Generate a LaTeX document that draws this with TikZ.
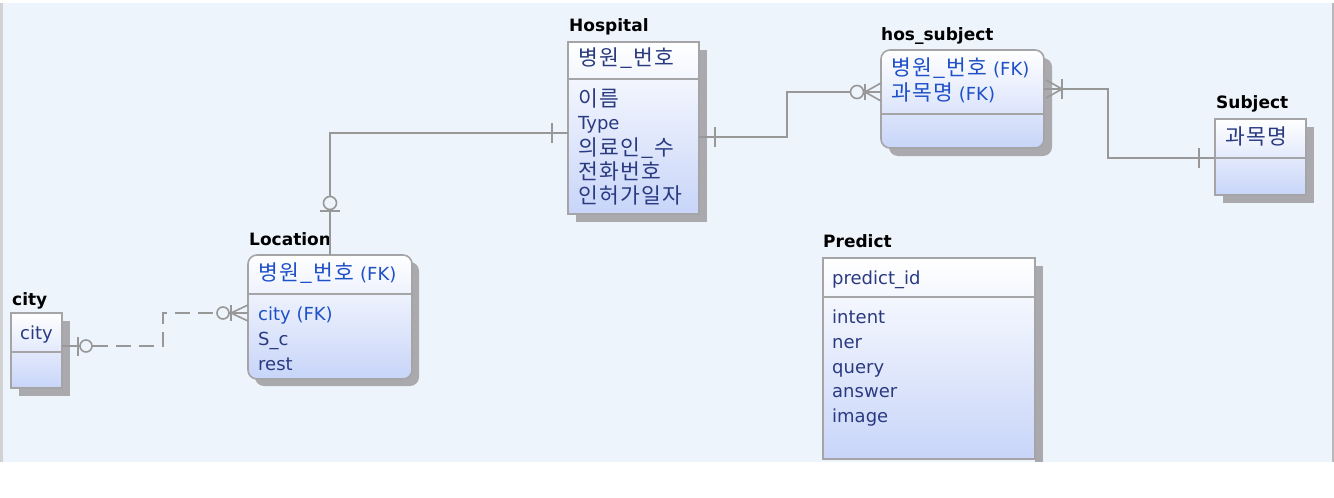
\documentclass[tikz,border=0pt]{standalone}
\usepackage{fontspec}
\setmainfont{DejaVu Sans}
\newfontfamily\kr[LetterSpace=6]{Noto Sans CJK KR}
\newcommand\krbig{\kr\fontsize{21.5}{25}\selectfont}
\usetikzlibrary{calc}
\definecolor{bg}{RGB}{238,244,251}
\definecolor{edgec}{RGB}{165,165,168}
\definecolor{shadowc}{RGB}{170,170,174}
\definecolor{boxbot}{RGB}{200,213,249}
\definecolor{navy}{RGB}{42,58,128}
\definecolor{fkc}{RGB}{30,80,200}
\definecolor{connc}{RGB}{152,152,152}
\tikzset{
  ent/.style={draw=none,inner sep=0pt,outer sep=0pt,anchor=north west},
  boxline/.style={draw=edgec,line width=1.6pt},
  conn/.style={draw=connc,line width=1.6pt},
  dconn/.style={conn,dash pattern=on 15pt off 8pt},
  ttl/.style={anchor=base west,inner sep=0pt,font=\fontsize{17}{20}\selectfont\bfseries,text=black},
  krt/.style={anchor=base west,inner sep=0pt,font=\krbig,text=navy},
  lat/.style={anchor=base west,inner sep=0pt,font=\fontsize{18}{21}\selectfont,text=navy},
  fkt/.style={anchor=base west,inner sep=0pt,font=\fontsize{18}{21}\selectfont,text=fkc},
  ring/.style={conn,fill=bg}
}
\begin{document}
\begin{tikzpicture}[x=1pt,y=-1pt]
\useasboundingbox (0,0) rectangle (1334,498);
\fill[white] (0,0) rectangle (1334,498);
\fill[bg] (3,3) rectangle (1333,462);
\fill[gray!35] (0,3) rectangle (3,462);
\fill[gray!55] (1332,3) rectangle (1334,462);

% ---------- entity frames ----------
\node[ent,minimum width=131pt,minimum height=172pt] (H) at (568,42) {};
\node[ent,minimum width=163pt,minimum height=98pt] (HS) at (881,50) {};
\node[ent,minimum width=91pt,minimum height=76pt] (S) at (1215,119) {};
\node[ent,minimum width=164pt,minimum height=124pt] (L) at (248,255) {};
\node[ent,minimum width=51pt,minimum height=75pt] (C) at (11,313) {};
\node[ent,minimum width=212pt,minimum height=201pt] (P) at (823,258) {};

% Hospital
\fill[shadowc] ($(H.north west)+(8,8)$) rectangle ($(H.south east)+(8,8)$);
\shade[top color=white,bottom color=boxbot] (H.north west) rectangle (H.south east);
\draw[boxline] (H.north west) rectangle (H.south east);
\draw[boxline] (H.west |- 0,79) -- (H.east |- 0,79);
% hos_subject
\fill[shadowc,rounded corners=9pt] ($(HS.north west)+(8,8)$) rectangle ($(HS.south east)+(8,8)$);
\shade[top color=white,bottom color=boxbot,rounded corners=9pt] (HS.north west) rectangle (HS.south east);
\draw[boxline,rounded corners=9pt] (HS.north west) rectangle (HS.south east);
\draw[boxline] (HS.west |- 0,114) -- (HS.east |- 0,114);
% Subject
\fill[shadowc] ($(S.north west)+(8,8)$) rectangle ($(S.south east)+(8,8)$);
\shade[top color=white,bottom color=boxbot] (S.north west) rectangle (S.south east);
\draw[boxline] (S.north west) rectangle (S.south east);
\draw[boxline] (S.west |- 0,158) -- (S.east |- 0,158);
% Location
\fill[shadowc,rounded corners=9pt] ($(L.north west)+(7,7)$) rectangle ($(L.south east)+(7,7)$);
\shade[top color=white,bottom color=boxbot,rounded corners=9pt] (L.north west) rectangle (L.south east);
\draw[boxline,rounded corners=9pt] (L.north west) rectangle (L.south east);
\draw[boxline] (L.west |- 0,294) -- (L.east |- 0,294);
% city
\fill[shadowc] ($(C.north west)+(8,8)$) rectangle ($(C.south east)+(8,8)$);
\shade[top color=white,bottom color=boxbot] (C.north west) rectangle (C.south east);
\draw[boxline] (C.north west) rectangle (C.south east);
\draw[boxline] (C.west |- 0,352) -- (C.east |- 0,352);
% Predict
\fill[shadowc] (1035,266) rectangle (1043,462);
\shade[top color=white,bottom color=boxbot] (P.north west) rectangle (P.south east);
\draw[boxline] (P.north west) rectangle (P.south east);
\draw[boxline] (P.west |- 0,297) -- (P.east |- 0,297);
\fill[white] (0,462.5) rectangle (1334,498);

% ---------- titles ----------
\node[ttl] (tH) at (569,31) {Hospital};
\node[ttl] (tHS) at (881,40) {hos\_subject};
\node[ttl] (tS) at (1216,108) {Subject};
\node[ttl] (tL) at (249,245) {Location};
\node[ttl] (tC) at (12,305) {city};
\node[ttl] (tP) at (823,247) {Predict};

% ---------- attributes ----------
\node[krt] (h1) at (578,65) {병원\_번호};
\node[krt] (h2) at (578,106) {이름};
\node[lat] (h3) at (578,129) {Type};
\node[krt] (h4) at (578,155) {의료인\_수};
\node[krt] (h5) at (578,179) {전화번호};
\node[krt] (h6) at (578,203) {인허가일자};

\node[fkt] (hs1) at (891,75) {{\krbig 병원\_번호} (FK)};
\node[fkt] (hs2) at (891,100) {{\krbig 과목명} (FK)};

\node[krt] (s1) at (1225,144) {과목명};

\node[fkt] (l1) at (258,280) {{\krbig 병원\_번호} (FK)};
\node[fkt] (l2) at (258,320) {city (FK)};
\node[lat] (l3) at (258,345) {S\_c};
\node[lat] (l4) at (258,370) {rest};

\node[lat] (c1) at (20,339) {city};

\node[lat] (p1) at (832,284) {predict\_id};
\node[lat] (p2) at (832,323) {intent};
\node[lat] (p3) at (832,348) {ner};
\node[lat] (p4) at (832,373) {query};
\node[lat] (p5) at (832,397) {answer};
\node[lat] (p6) at (832,422) {image};

% ---------- connectors ----------
% Hospital -- Location
\draw[conn] (H.west |- 0,133) -| (L.north);
\draw[conn] (552,123) -- (552,143);
\draw[conn] (320,211) -- (340,211);
\draw[ring] (330,203) circle (6.5pt);
% Hospital -- hos_subject
\draw[conn] (H.east |- 0,137) -| (787,114) |- (HS.west |- 0,92);
\draw[conn] (715,127) -- (715,147);
\draw[conn] (881,83) -- (865,92) -- (881,101);
\draw[conn] (865,84) -- (865,100);
\draw[ring] (857,92) circle (6.5pt);
% hos_subject -- Subject
\draw[conn] (HS.east |- 0,89) -| (1108,120) |- (S.west |- 0,158);
\draw[conn] (1046,80) -- (1062,89) -- (1046,98);
\draw[conn] (1062,79) -- (1062,99);
\draw[conn] (1199,148) -- (1199,168);
% city -- Location (non-identifying, dashed)
\draw[conn] (C.east |- 0,346) -- (93,346);
\draw[dconn] (93,346) -- (163,346) -- (163,313) -- (217,313);
\draw[conn] (229,313) -- (L.west |- 0,313);
\draw[conn] (78,337) -- (78,356);
\draw[ring] (86,346) circle (6pt);
\draw[conn] (248,305) -- (231,313) -- (248,321);
\draw[conn] (231,305) -- (231,321);
\draw[ring] (223,313) circle (6pt);
\end{tikzpicture}
\end{document}
